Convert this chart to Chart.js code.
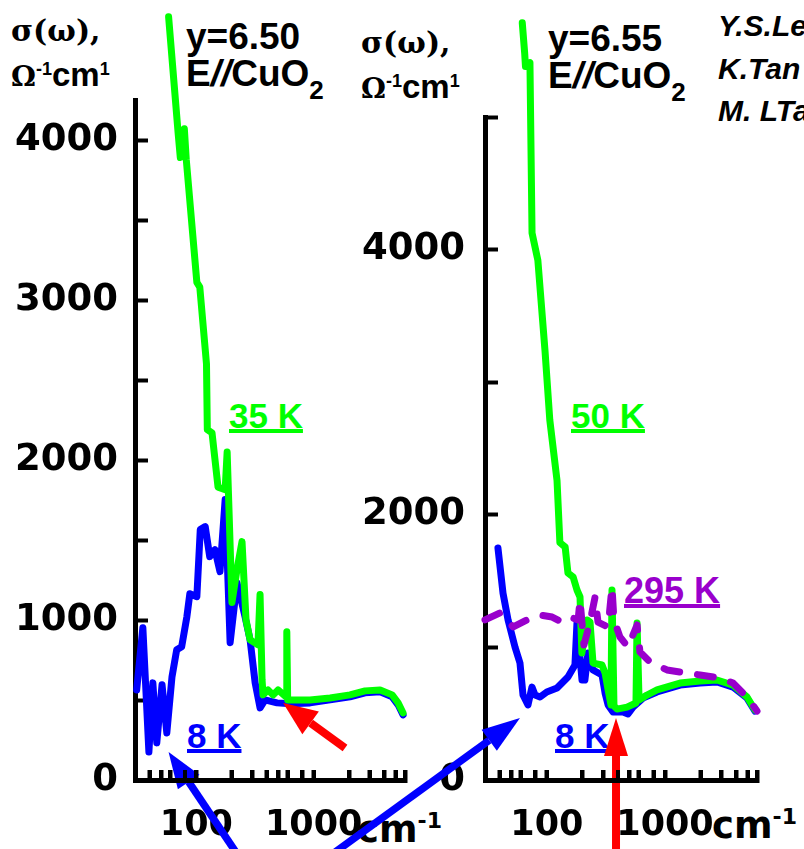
<!DOCTYPE html>
<html>
<head>
<meta charset="utf-8">
<script src="https://cdn.jsdelivr.net/npm/chart.js@4.4.1/dist/chart.umd.min.js"></script>
<style>
  html, body { margin: 0; padding: 0; background: #fff; }
  #wrap { position: relative; width: 804px; height: 849px; overflow: hidden; background: #fff; }
  canvas { position: absolute; left: 0; top: 0; }
  .t { position: absolute; white-space: nowrap; line-height: 1; font-family: "Liberation Sans", Arial, sans-serif; font-weight: bold; color: #000; }
  .serif { font-family: "DejaVu Serif", serif; }
  .dv { font-family: "DejaVu Sans", sans-serif; }
  .i { font-style: italic; }
  .u { text-decoration: underline; text-decoration-thickness: 4px; text-underline-offset: 1px; }
  .green { color: #00ff00; } .blue { color: #0000ff; } .purple { color: #9900cc; }
  .ax { position: absolute; background: #000; }
</style>
</head>
<body>
<div id="wrap">
  <!-- left panel texts -->
  <div class="t serif" style="left:11px;top:16px;font-size:30px">σ(ω),</div>
  <div class="t" style="left:11px;top:58px;font-size:33px"><span class="serif" style="font-size:28px">Ω</span><span style="font-size:18px;vertical-align:11px">-1</span><span>cm</span><span style="font-size:18px;vertical-align:11px">1</span></div>
  <div class="t" style="left:186px;top:18px;font-size:37px">y=6.50</div>
  <div class="t" style="left:186px;top:55px;font-size:37px">E<span class="i">//</span>CuO<span style="font-size:26px;vertical-align:-13px">2</span></div>
  <div class="t green u" style="left:229px;top:398px;font-size:35px">35 K</div>
  <div class="t blue u" style="left:187px;top:718px;font-size:35px">8 K</div>
  <div class="t dv" style="left:357px;top:810px;font-size:37px">cm<span style="font-size:22px;vertical-align:14px">-1</span></div>

  <!-- right panel texts -->
  <div class="t serif" style="left:361px;top:28px;font-size:30px">σ(ω),</div>
  <div class="t" style="left:361px;top:70px;font-size:33px"><span class="serif" style="font-size:28px">Ω</span><span style="font-size:18px;vertical-align:11px">-1</span><span>cm</span><span style="font-size:18px;vertical-align:11px">1</span></div>
  <div class="t" style="left:548px;top:20px;font-size:37px">y=6.55</div>
  <div class="t" style="left:548px;top:57px;font-size:37px">E<span class="i">//</span>CuO<span style="font-size:26px;vertical-align:-13px">2</span></div>
  <div class="t green u" style="left:571px;top:398px;font-size:35px">50 K</div>
  <div class="t purple u" style="left:624px;top:573px;font-size:36px">295 K</div>
  <div class="t blue u" style="left:555px;top:718px;font-size:35px">8 K</div>
  <div class="t dv" style="left:712px;top:806px;font-size:37px">cm<span style="font-size:22px;vertical-align:14px">-1</span></div>

  <div class="t i" style="left:718px;top:11px;font-size:30px">Y.S.Le</div>
  <div class="t i" style="left:718px;top:54px;font-size:30px">K.Tan</div>
  <div class="t i" style="left:718px;top:96px;font-size:30px">M. LTa</div>

  <canvas id="leftChart" width="804" height="849"></canvas>
  <canvas id="rightChart" width="804" height="849"></canvas>
</div>
<script>
  // wavenumber ticks (cm-1), shared by both panels
  const xTicks = [40, 50, 60, 80, 100, 200, 300, 400, 500, 600, 800, 1000, 2000, 3000, 4000, 5000, 6000];
  const xRange = [30, 6000];
  const leftYTicks = [0, 500, 1000, 1500, 2000, 2500, 3000, 3500, 4000];
  const rightYTicks = [0, 1000, 2000, 3000, 4000, 5000];

  // y=6.50, 35 K
  const left35Nu = [58, 70, 73, 79, 82, 101, 107, 122, 124, 136, 153, 176, 183, 201, 222, 245, 265, 287, 335, 349, 363, 370, 408, 450, 497, 581, 590, 600, 931, 1380, 2040, 2740, 3680, 4660, 5240, 5780];
  const left35Sig = [4770, 4040, 3890, 4070, 3880, 3110, 3080, 2600, 2190, 2170, 1830, 1815, 2050, 1110, 1315, 1490, 1000, 876, 845, 1160, 626, 532, 563, 532, 563, 520, 926, 500, 500, 513, 532, 557, 563, 532, 482, 419];
  // y=6.50, 8 K
  const left8Nu = [31, 35, 39.4, 42.6, 46, 51, 56, 62, 68, 75, 83, 88, 101, 108, 119, 130, 144, 159, 176, 194, 222, 260, 287, 317, 349, 385, 487, 629, 931, 1380, 2040, 2740, 3680, 4660, 5240, 5780];
  const left8Sig = [563, 952, 175, 607, 232, 595, 294, 645, 814, 833, 1020, 1164, 1146, 1565, 1584, 1396, 1440, 1302, 1753, 858, 1233, 1020, 876, 607, 451, 501, 482, 476, 482, 501, 520, 545, 551, 520, 470, 407];

  // y=6.55, 50 K
  const right50Nu = [62, 65, 66, 72, 75, 84, 96.5, 106, 122, 129, 143, 151, 167, 180, 191, 198, 219, 232, 246, 293, 311, 330, 349, 356, 370, 393, 477, 568, 580, 603, 704, 856, 1340, 1980, 2750, 3760, 4940, 5770];
  const right50Sig = [5710, 5480, 5380, 5410, 4125, 3920, 3240, 2715, 2260, 1790, 1757, 1561, 1531, 1433, 1380, 958, 1207, 1191, 882, 867, 807, 679, 566, 1433, 558, 535, 550, 581, 1184, 603, 641, 679, 731, 746, 754, 716, 626, 528];
  // y=6.55, 8 K
  const right8Nu = [38.6, 42.6, 47, 53.8, 59.3, 62.9, 69.3, 74.9, 79.5, 87.6, 100, 122, 151, 173, 180, 198.5, 210, 223, 246, 293, 311, 330, 363, 441, 486, 536, 651, 856, 1340, 1980, 2750, 3760, 4940, 5770];
  const right8Sig = [1750, 1410, 1207, 1003, 882, 641, 566, 701, 641, 626, 664, 694, 777, 867, 1184, 754, 754, 958, 830, 792, 656, 566, 513, 513, 498, 550, 618, 664, 716, 731, 739, 701, 618, 520];
  // y=6.55, 295 K
  const right295Nu = [30, 40, 52, 68, 88, 111, 134, 157, 184, 191, 206, 232, 256, 271, 330, 356, 370, 416, 486, 580, 614, 746, 1040, 1340, 1980, 2920, 3760, 4940, 6000];
  const right295Sig = [1207, 1259, 1154, 1207, 1244, 1229, 1191, 1229, 1207, 1357, 1018, 1191, 1380, 1191, 1154, 1455, 1207, 1078, 1003, 1169, 965, 890, 830, 814, 792, 769, 731, 626, 520];

  // arrows, given in each panel's own (wavenumber, sigma) units
  const leftArrows = [
    { from: [1850, 200], to: [549, 482], color: '#ff0000', width: 8, head: 34, half: 14 },
    { from: [226, -470], to: [58, 175], color: '#0000ff', width: 7.5, head: 36, half: 13 }
  ];
  const rightArrows = [
    { from: [1.46, -573], to: [59.3, 468], color: '#0000ff', width: 7.5, head: 38, half: 13 },
    { from: [385, -573], to: [385, 468], color: '#ff0000', width: 8, head: 38, half: 12 }
  ];

  function pts(nu, sig) { return nu.map((v, i) => ({ x: v, y: sig[i] })); }

  const arrowPlugin = {
    id: 'arrows',
    afterDraw(chart, args, opts) {
      const ctx = chart.ctx, xs = chart.scales.x, ys = chart.scales.y;
      (opts.list || []).forEach(a => {
        const x1 = xs.getPixelForValue(a.from[0]), y1 = ys.getPixelForValue(a.from[1]);
        const x2 = xs.getPixelForValue(a.to[0]), y2 = ys.getPixelForValue(a.to[1]);
        const ang = Math.atan2(y2 - y1, x2 - x1);
        const bx = x2 - a.head * Math.cos(ang), by = y2 - a.head * Math.sin(ang);
        ctx.save();
        ctx.setLineDash([]);
        ctx.strokeStyle = a.color; ctx.fillStyle = a.color; ctx.lineWidth = a.width;
        ctx.beginPath(); ctx.moveTo(x1, y1); ctx.lineTo(bx, by); ctx.stroke();
        ctx.beginPath();
        ctx.moveTo(x2, y2);
        ctx.lineTo(bx + a.half * Math.sin(ang), by - a.half * Math.cos(ang));
        ctx.lineTo(bx - a.half * Math.sin(ang), by + a.half * Math.cos(ang));
        ctx.closePath(); ctx.fill();
        ctx.restore();
      });
    }
  };

  function line(data, color, dash) {
    const ds = { data: data, borderColor: color, borderWidth: 7, pointRadius: 0, clip: false,
                 borderJoinStyle: 'round', borderCapStyle: 'round' };
    if (dash) ds.borderDash = dash;
    return ds;
  }

  function panel(id, p) {
    return new Chart(document.getElementById(id), {
      type: 'line',
      data: { datasets: p.datasets },
      options: {
        responsive: false, animation: false, devicePixelRatio: 1,
        layout: { padding: { left: 0, top: p.top, right: 804 - p.right, bottom: 0 } },
        plugins: { legend: { display: false }, tooltip: { enabled: false }, arrows: { list: p.arrows } },
        scales: {
          x: {
            type: 'logarithmic', min: xRange[0], max: xRange[1],
            afterFit: s => { s.height = 69; },
            afterBuildTicks: s => { s.ticks = xTicks.map(v => ({ value: v })); },
            ticks: {
              autoSkip: false, maxRotation: 0, padding: 35, color: '#000',
              font: { family: '"DejaVu Sans", sans-serif', weight: 'bold', size: 35, lineHeight: 1.2 },
              callback: v => (v === 100 || v === 1000) ? String(v) : ''
            },
            grid: { drawOnChartArea: false, drawTicks: true, tickLength: -10, tickWidth: 4, tickColor: '#000' },
            border: { display: true, width: 5, color: '#000' }
          },
          y: {
            min: 0, max: p.yMax,
            afterFit: s => { s.width = p.left; },
            afterBuildTicks: s => { s.ticks = p.yTicks.map(v => ({ value: v })); },
            ticks: {
              padding: p.labelPad, color: '#000',
              font: { family: '"DejaVu Sans", sans-serif', weight: 'bold', size: 37 },
              callback: v => (v % p.labelEvery === 0) ? String(v) : ''
            },
            grid: { drawOnChartArea: false, drawTicks: true, tickLength: -13, tickWidth: 4, tickColor: '#000' },
            border: { display: true, width: 5, color: '#000' }
          }
        }
      },
      plugins: [arrowPlugin]
    });
  }

  // bottom axis line and inward ticks, placed from the chart's own scales
  function bottomAxis(chart) {
    const wrap = document.getElementById('wrap');
    const xs = chart.scales.x, ys = chart.scales.y;
    const y0 = ys.getPixelForValue(0);
    const xa = xs.getPixelForValue(xRange[0]), xb = xs.getPixelForValue(xRange[1]);
    const bar = document.createElement('div');
    bar.className = 'ax';
    bar.style.left = (xa - 2.5) + 'px'; bar.style.top = (y0 - 2.5) + 'px';
    bar.style.width = (xb - xa + 2.5) + 'px'; bar.style.height = '5px';
    wrap.appendChild(bar);
    xTicks.forEach(v => {
      const px = xs.getPixelForValue(v);
      const tk = document.createElement('div');
      tk.className = 'ax';
      tk.style.left = (px - 2) + 'px'; tk.style.top = (y0 - 10) + 'px';
      tk.style.width = '4px'; tk.style.height = '10px';
      wrap.appendChild(tk);
    });
  }

  const leftChart = panel('leftChart', {
    left: 135, right: 405, top: 100, yMax: 4250, yTicks: leftYTicks, labelEvery: 1000, labelPad: 30,
    arrows: leftArrows,
    datasets: [
      line(pts(left35Nu, left35Sig), '#00ff00'),
      line(pts(left8Nu, left8Sig), '#0000ff')
    ]
  });

  const rightChart = panel('rightChart', {
    left: 485, right: 757, top: 117, yMax: 5000, yTicks: rightYTicks, labelEvery: 2000, labelPad: 33,
    arrows: rightArrows,
    datasets: [
      line(pts(right295Nu, right295Sig), '#9900cc', [16, 18]),
      line(pts(right50Nu, right50Sig), '#00ff00'),
      line(pts(right8Nu, right8Sig), '#0000ff')
    ]
  });

  bottomAxis(leftChart);
  bottomAxis(rightChart);
</script>
</body>
</html>
